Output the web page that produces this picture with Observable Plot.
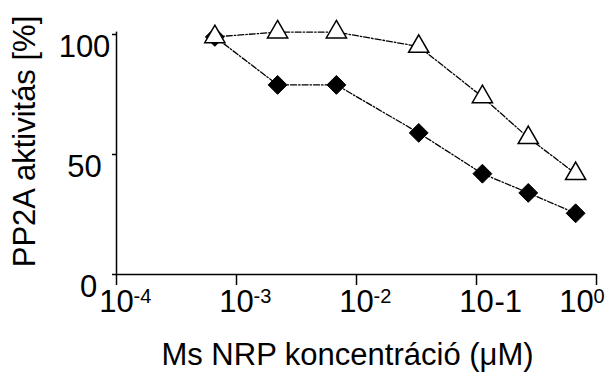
<!DOCTYPE html>
<html><head><meta charset="utf-8">
<script src="https://cdn.jsdelivr.net/npm/d3@7"></script>
<script src="https://cdn.jsdelivr.net/npm/@observablehq/plot@0.6"></script>
<style>html,body{margin:0;padding:0;background:#fff}</style>
</head><body><div id="chart"></div>
<script>
const concentrations = [0.00066, 0.0022, 0.0068, 0.033, 0.112, 0.27, 0.67];
const triangleSeries = [99, 101, 101, 95, 74, 57, 42];
const diamondSeries = [99, 79, 79, 59, 42, 34, 25.5];
const xTickValues = [1e-4, 1e-3, 1e-2, 1e-1, 1];
const xTickBase = ["10", "10", "10", "10", "10"];
const xTickExp = ["-4", "-3", "-2", "-1", "0"];
const xTickSuper = [true, true, true, false, true];
const yTickValues = [0, 50, 100];
const yTickLabels = ["0", "50", "100"];
const xTitle = "Ms NRP koncentráció (μM)";
const yTitle = "PP2A aktivitás [%]";

const tri = concentrations.map((c, i) => ({c, v: triangleSeries[i]}));
const dia = concentrations.map((c, i) => ({c, v: diamondSeries[i]}));
const xt = xTickValues.map((v, i) => ({v, base: xTickBase[i], exp: xTickExp[i], sup: xTickSuper[i], last: i === xTickValues.length - 1}));
const yt = yTickValues.map((v, i) => ({v, label: yTickLabels[i]}));

const FS = 31;
const SUP = 20;
const chart = Plot.plot({
  width: 605, height: 374,
  marginLeft: 116, marginRight: 9, marginTop: 34, marginBottom: 100,
  style: {fontFamily: "'Liberation Sans', Arial, sans-serif", fontSize: FS + "px", background: "#fff", color: "#000"},
  x: {type: "log", domain: [1e-4, 1], axis: null},
  y: {domain: [0, 100], axis: null},
  marks: [
    Plot.axisX(xTickValues, {tickSize: 11, fill: "none", label: null, strokeWidth: 1.5}),
    Plot.axisY(yTickValues, {tickSize: 4, fill: "none", label: null, strokeWidth: 1.5}),
    Plot.ruleX([1e-4], {y1: 0, y2: 101, strokeWidth: 1.5}),
    Plot.ruleY([0], {x1: 1e-4, x2: 1, strokeWidth: 1.5}),
    // y tick labels (top-aligned with their ticks, as in the reference)
    Plot.text(yt.filter(d => d.v > 0), {x: () => 1e-4, y: "v", text: "label", textAnchor: "middle", lineAnchor: "top", dx: -32, dy: 0, fontSize: FS}),
    Plot.text(yt.filter(d => d.v === 0), {x: () => 1e-4, y: "v", text: "label", textAnchor: "middle", lineAnchor: "top", dx: -28, dy: 0, fontSize: FS}),
    // x tick labels: base "10"
    Plot.text(xt.filter(d => !d.last), {x: "v", y: () => 0, text: "base", textAnchor: "middle", lineAnchor: "bottom", dy: 37, fontSize: FS}),
    Plot.text(xt.filter(d => d.last), {x: "v", y: () => 0, text: "base", textAnchor: "middle", lineAnchor: "bottom", dx: -20, dy: 37, fontSize: FS}),
    // exponents
    Plot.text(xt.filter(d => d.sup && !d.last), {x: "v", y: () => 0, text: "exp", textAnchor: "start", lineAnchor: "top", dx: 17, dy: 14, fontSize: SUP}),
    Plot.text(xt.filter(d => d.sup && d.last), {x: "v", y: () => 0, text: "exp", textAnchor: "start", lineAnchor: "top", dx: -3, dy: 14, fontSize: SUP}),
    Plot.text(xt.filter(d => !d.sup), {x: "v", y: () => 0, text: "exp", textAnchor: "start", lineAnchor: "bottom", dx: 18, dy: 37, fontSize: FS}),
    // titles
    Plot.text([xTitle], {frameAnchor: "bottom", text: d => d, textAnchor: "middle", dx: -9, dy: 81, lineAnchor: "middle", fontSize: FS}),
    Plot.text([yTitle], {frameAnchor: "left", text: d => d, textAnchor: "middle", dx: -91, dy: -13, rotate: -90, lineAnchor: "middle", fontSize: FS}),
    // series lines
    Plot.line(tri, {x: "c", y: "v", stroke: "#000", strokeWidth: 1.3, strokeDasharray: "6,2,1.5,2"}),
    Plot.line(dia, {x: "c", y: "v", stroke: "#000", strokeWidth: 1.3, strokeDasharray: "6,2,1.5,2"}),
    // markers
    Plot.dot(dia, {x: "c", y: "v", symbol: "diamond2", r: 8.5, fill: "#000", stroke: "#000", strokeWidth: 1}),
    Plot.dot(tri, {x: "c", y: "v", symbol: "triangle", r: 7.5, fill: "#fff", stroke: "#000", strokeWidth: 1.5})
  ]
});
document.getElementById("chart").appendChild(chart);
</script>
</body></html>
